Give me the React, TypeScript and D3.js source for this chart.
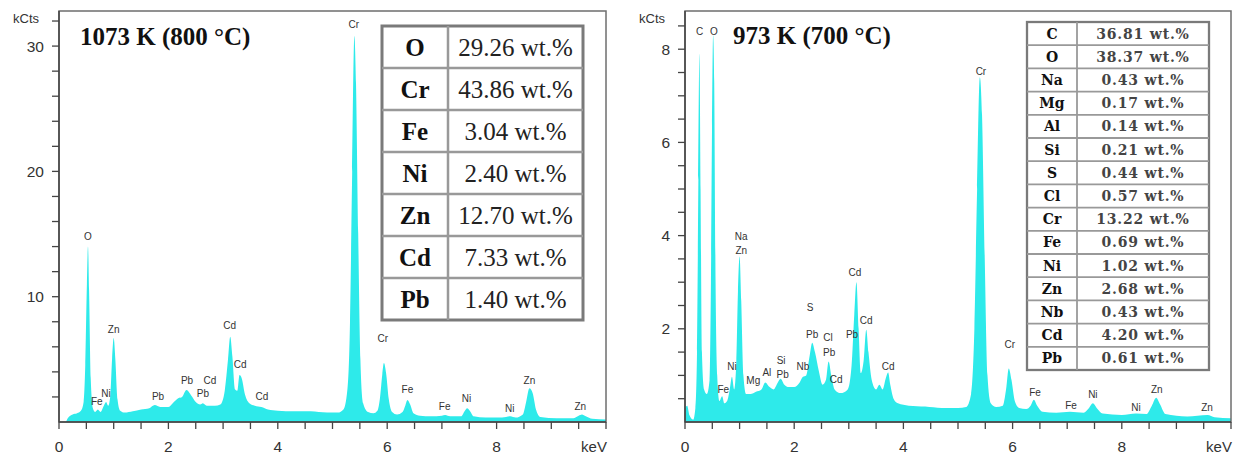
import * as d3 from 'd3';

// EDS spectra: [keV, kCts]
const spectrum800: [number, number][] = [
  [0.0, 0], [0.12, 0], [0.16, 0.3], [0.25, 0.6], [0.33, 0.7], [0.4, 0.9], [0.45, 1.6], [0.48, 4.5],
  [0.51, 11.0], [0.53, 14.0], [0.55, 10.5], [0.58, 3.5], [0.62, 1.1], [0.66, 0.8], [0.71, 1.0],
  [0.76, 0.8], [0.82, 1.3], [0.86, 1.6], [0.9, 1.3], [0.94, 2.2], [0.97, 5.0], [1.0, 6.7], [1.03, 5.0],
  [1.07, 1.8], [1.12, 0.9], [1.2, 0.75], [1.35, 0.85], [1.5, 1.0], [1.65, 1.1], [1.75, 1.35],
  [1.85, 1.2], [2.0, 1.2], [2.1, 1.6], [2.18, 1.9], [2.25, 2.0], [2.33, 2.55], [2.42, 2.1], [2.5, 1.6],
  [2.58, 1.4], [2.63, 1.5], [2.7, 1.3], [2.85, 1.3], [2.95, 1.4], [3.03, 2.5], [3.09, 5.0], [3.13, 6.8],
  [3.17, 5.2], [3.22, 2.6], [3.26, 2.5], [3.3, 3.75], [3.34, 3.5], [3.4, 2.2], [3.48, 1.5], [3.58, 1.3],
  [3.7, 1.2], [3.82, 1.0], [4.0, 0.9], [4.3, 0.85], [4.6, 0.85], [4.9, 0.75], [5.1, 0.75], [5.2, 1.0],
  [5.27, 2.5], [5.32, 8.0], [5.36, 20.0], [5.4, 30.8], [5.43, 27.0], [5.47, 15.0], [5.51, 5.0],
  [5.56, 1.5], [5.65, 0.8], [5.75, 0.7], [5.82, 0.9], [5.87, 2.0], [5.91, 3.8], [5.94, 4.7], [5.98, 3.9],
  [6.03, 1.8], [6.09, 0.8], [6.18, 0.6], [6.28, 0.8], [6.33, 1.3], [6.37, 1.75], [6.42, 1.4], [6.48, 0.7],
  [6.6, 0.5], [6.8, 0.45], [7.0, 0.5], [7.06, 0.55], [7.15, 0.45], [7.35, 0.45], [7.42, 0.9], [7.46, 1.1],
  [7.51, 0.9], [7.58, 0.45], [7.8, 0.35], [8.1, 0.35], [8.25, 0.45], [8.35, 0.35], [8.48, 0.6],
  [8.54, 1.6], [8.6, 2.7], [8.66, 2.3], [8.72, 1.0], [8.8, 0.4], [9.1, 0.3], [9.4, 0.3], [9.5, 0.5],
  [9.56, 0.6], [9.63, 0.45], [9.75, 0.25], [10.0, 0.2],
];

const spectrum700: [number, number][] = [
  [0.0, 0.3], [0.04, 0.35], [0.08, 0.15], [0.15, 0.05], [0.19, 0.3], [0.22, 1.5], [0.245, 5.2],
  [0.265, 7.9], [0.285, 5.0], [0.31, 1.5], [0.35, 0.7], [0.4, 0.6], [0.45, 0.9], [0.475, 3.0],
  [0.495, 6.3], [0.515, 8.3], [0.535, 7.3], [0.56, 3.0], [0.59, 1.0], [0.63, 0.45], [0.68, 0.55],
  [0.72, 0.4], [0.77, 0.45], [0.82, 0.7], [0.86, 0.97], [0.9, 0.7], [0.94, 1.3], [0.97, 2.8], [1.0, 3.55],
  [1.03, 2.6], [1.07, 1.0], [1.12, 0.6], [1.2, 0.6], [1.3, 0.65], [1.4, 0.7], [1.47, 0.85], [1.55, 0.75],
  [1.62, 0.7], [1.7, 0.85], [1.75, 0.93], [1.82, 0.8], [1.9, 0.75], [2.0, 0.75], [2.1, 0.85],
  [2.16, 0.97], [2.22, 1.0], [2.28, 1.4], [2.33, 1.7], [2.38, 1.5], [2.45, 1.1], [2.52, 0.8], [2.58, 0.9],
  [2.63, 1.3], [2.68, 1.0], [2.74, 0.7], [2.85, 0.62], [2.98, 0.7], [3.05, 1.2], [3.1, 2.3], [3.14, 3.0],
  [3.18, 2.0], [3.22, 1.05], [3.27, 1.3], [3.32, 1.98], [3.36, 1.5], [3.42, 0.9], [3.5, 0.7], [3.56, 0.8],
  [3.62, 0.7], [3.68, 0.95], [3.72, 1.06], [3.76, 0.8], [3.82, 0.5], [3.9, 0.4], [4.1, 0.35], [4.4, 0.33],
  [4.7, 0.3], [5.0, 0.3], [5.15, 0.32], [5.24, 0.6], [5.3, 2.0], [5.35, 5.0], [5.4, 7.4], [5.44, 6.6],
  [5.49, 3.5], [5.54, 1.0], [5.6, 0.4], [5.7, 0.32], [5.82, 0.35], [5.88, 0.7], [5.93, 1.15], [5.98, 0.9],
  [6.04, 0.45], [6.12, 0.3], [6.25, 0.28], [6.33, 0.35], [6.39, 0.48], [6.45, 0.35], [6.55, 0.22],
  [6.8, 0.2], [7.05, 0.22], [7.3, 0.2], [7.4, 0.3], [7.47, 0.4], [7.54, 0.3], [7.65, 0.18], [8.0, 0.15],
  [8.26, 0.18], [8.45, 0.17], [8.55, 0.35], [8.63, 0.52], [8.7, 0.38], [8.8, 0.17], [9.2, 0.12],
  [9.57, 0.15], [9.7, 0.1], [10.0, 0.08],
];

// peak labels: [text, keV, kCts]
const peaks800: [string, number, number][] = [
  ['O', 0.53, 14.8], ['Fe', 0.69, 1.6], ['Ni', 0.86, 2.3], ['Zn', 1.0, 7.4], ['Pb', 1.81, 2.0],
  ['Pb', 2.34, 3.35], ['Cd', 2.76, 3.35], ['Pb', 2.63, 2.3], ['Cd', 3.12, 7.7], ['Cd', 3.31, 4.55],
  ['Cd', 3.71, 2.0], ['Cr', 5.39, 31.7], ['Cr', 5.92, 6.7], ['Fe', 6.37, 2.6], ['Fe', 7.05, 1.2],
  ['Ni', 7.45, 1.9], ['Ni', 8.24, 1.1], ['Zn', 8.6, 3.35], ['Zn', 9.53, 1.2],
];

const peaks700: [string, number, number][] = [
  ['C', 0.27, 8.37], ['O', 0.53, 8.37], ['Na', 1.03, 3.99], ['Zn', 1.03, 3.69], ['Ni', 0.86, 1.2],
  ['Fe', 0.7, 0.69], ['Mg', 1.25, 0.9], ['Al', 1.5, 1.07], ['Si', 1.76, 1.31], ['Pb', 1.79, 1.01],
  ['Nb', 2.16, 1.2], ['S', 2.29, 2.45], ['Pb', 2.33, 1.87], ['Cl', 2.62, 1.82], ['Pb', 2.64, 1.5],
  ['Cd', 2.77, 0.92], ['Pb', 3.06, 1.87], ['Cd', 3.11, 3.2], ['Cd', 3.32, 2.17], ['Cd', 3.72, 1.2],
  ['Cr', 5.42, 7.53], ['Cr', 5.95, 1.67], ['Fe', 6.41, 0.64], ['Fe', 7.07, 0.36], ['Ni', 7.47, 0.6],
  ['Ni', 8.26, 0.32], ['Zn', 8.64, 0.69], ['Zn', 9.56, 0.32],
];

const elements800 = ['O', 'Cr', 'Fe', 'Ni', 'Zn', 'Cd', 'Pb'];
const wt800 = ['29.26', '43.86', '3.04', '2.40', '12.70', '7.33', '1.40'];

const elements700 = ['C', 'O', 'Na', 'Mg', 'Al', 'Si', 'S', 'Cl', 'Cr', 'Fe', 'Ni', 'Zn', 'Nb', 'Cd', 'Pb'];
const wt700 = ['36.81', '38.37', '0.43', '0.17', '0.14', '0.21', '0.44', '0.57', '13.22', '0.69', '1.02', '2.68', '0.43', '4.20', '0.61'];

const xTicks = [0, 2, 4, 6, 8];
const yTicks800 = [10, 20, 30];
const yTicks700 = [2, 4, 6, 8];

const CYAN = '#2eeaea';
const SANS = 'Liberation Sans, Arial, sans-serif';

type PanelProps = {
  x0: number; x1: number; yTop: number; yBottom: number;
  yMax: number; yMinorStep: number; yTicks: number[];
  data: [number, number][]; peaks: [string, number, number][];
  title: string; titleX: number; titleY: number;
};

function Panel(p: PanelProps) {
  const x = d3.scaleLinear().domain([0, 10]).range([p.x0, p.x1]);
  const y = d3.scaleLinear().domain([0, p.yMax]).range([p.yBottom, p.yTop]);
  const area = d3.area<[number, number]>()
    .x(d => x(d[0]))
    .y0(y(0))
    .y1(d => y(Math.min(d[1], p.yMax)))
    .curve(d3.curveMonotoneX);
  const xMinor = d3.range(0, 10.001, 0.5);
  const yMinor = d3.range(p.yMinorStep, p.yMax, p.yMinorStep);

  return (
    <g>
      <path d={area(p.data) || ''} fill={CYAN} />
      <rect x={p.x0} y={p.yTop} width={p.x1 - p.x0} height={p.yBottom - p.yTop}
        fill="none" stroke="#6e6e6e" strokeWidth={1.5} />
      <line x1={p.x0} x2={p.x0} y1={p.yTop} y2={p.yBottom} stroke="#444" strokeWidth={1.5} />
      <line x1={p.x0} x2={p.x1} y1={p.yBottom} y2={p.yBottom} stroke="#444" strokeWidth={1.5} />
      {xMinor.map(t => (
        <line key={'xt' + t} x1={x(t)} x2={x(t)} y1={p.yBottom} y2={p.yBottom + 7} stroke="#444" strokeWidth={1.3} />
      ))}
      {yMinor.map(t => (
        <line key={'yt' + t} x1={p.x0 - 7} x2={p.x0} y1={y(t)} y2={y(t)} stroke="#444" strokeWidth={1.3} />
      ))}
      {xTicks.map(t => (
        <text key={'xl' + t} x={x(t)} y={p.yBottom + 30} textAnchor="middle" fontFamily={SANS}
          fontSize={15.5} fill="#333">{t}</text>
      ))}
      <text x={x(10) - 12} y={p.yBottom + 30} textAnchor="middle" fontFamily={SANS} fontSize={15} fill="#333">keV</text>
      {p.yTicks.map(t => (
        <text key={'yl' + t} x={p.x0 - 15} y={y(t)} dy="0.36em" textAnchor="end" fontFamily={SANS}
          fontSize={15.5} fill="#333">{t}</text>
      ))}
      <text x={p.x0 - 20} y={p.yTop + 12} textAnchor="end" fontFamily={SANS} fontSize={13} fill="#333">kCts</text>
      {p.peaks.map(([t, e, k], i) => (
        <text key={'pk' + i} x={x(e)} y={y(k)} dy="0.35em" textAnchor="middle" fontFamily={SANS}
          fontSize={10} fill="#333">{t}</text>
      ))}
      <text x={p.titleX} y={p.titleY} fontFamily="Liberation Serif, Times New Roman, serif" fontWeight="bold"
        fontSize={25} fill="#111">{p.title}</text>
    </g>
  );
}

type TableProps = {
  x: number; y: number; colW: [number, number]; rowH: number;
  elements: string[]; values: string[];
  font: string; fontSize: number; valueWeight: string; valueFill: string; lineW: number; spacing: number;
};

function CompTable(t: TableProps) {
  const w = t.colW[0] + t.colW[1];
  const h = t.rowH * t.elements.length;
  return (
    <g>
      <rect x={t.x} y={t.y} width={w} height={h} fill="#fff" stroke="#7a7a7a" strokeWidth={t.lineW + 0.5} />
      {t.elements.slice(1).map((_, i) => (
        <line key={'r' + i} x1={t.x} x2={t.x + w} y1={t.y + (i + 1) * t.rowH} y2={t.y + (i + 1) * t.rowH}
          stroke="#999" strokeWidth={t.lineW} />
      ))}
      <line x1={t.x + t.colW[0]} x2={t.x + t.colW[0]} y1={t.y} y2={t.y + h} stroke="#999" strokeWidth={t.lineW} />
      {t.elements.map((el, i) => (
        <g key={'c' + i}>
          <text x={t.x + t.colW[0] / 2} y={t.y + (i + 0.5) * t.rowH} dy="0.35em" textAnchor="middle"
            fontFamily={t.font} fontWeight="bold" fontSize={t.fontSize} fill="#111">{el}</text>
          <text x={t.x + t.colW[0] + t.colW[1] / 2} y={t.y + (i + 0.5) * t.rowH} dy="0.35em" textAnchor="middle"
            fontFamily={t.font} fontWeight={t.valueWeight} fontSize={t.fontSize} fill={t.valueFill}
            letterSpacing={t.spacing}>
            {t.values[i] + ' wt.%'}
          </text>
        </g>
      ))}
    </g>
  );
}

export default function App() {
  return (
    <svg width={1236} height={457} style={{ position: 'absolute', left: 0, top: 0, background: '#fff' }}>
      <Panel x0={59} x1={606} yTop={11} yBottom={422} yMax={32.8} yMinorStep={2} yTicks={yTicks800}
        data={spectrum800} peaks={peaks800} title="1073 K (800 °C)" titleX={80} titleY={45} />
      <Panel x0={685} x1={1231} yTop={11} yBottom={422} yMax={8.82} yMinorStep={0.5} yTicks={yTicks700}
        data={spectrum700} peaks={peaks700} title="973 K (700 °C)" titleX={733} titleY={44} />
      <CompTable x={382} y={26} colW={[66, 135]} rowH={42} elements={elements800} values={wt800}
        font="Liberation Serif, Times New Roman, serif" fontSize={25} valueWeight="normal" valueFill="#222"
        lineW={2.5} spacing={0} />
      <CompTable x={1027} y={22} colW={[50, 132]} rowH={23.2} elements={elements700} values={wt700}
        font="DejaVu Serif, serif" fontSize={14} valueWeight="bold" valueFill="#444" lineW={1.8} spacing={0.8} />
    </svg>
  );
}
